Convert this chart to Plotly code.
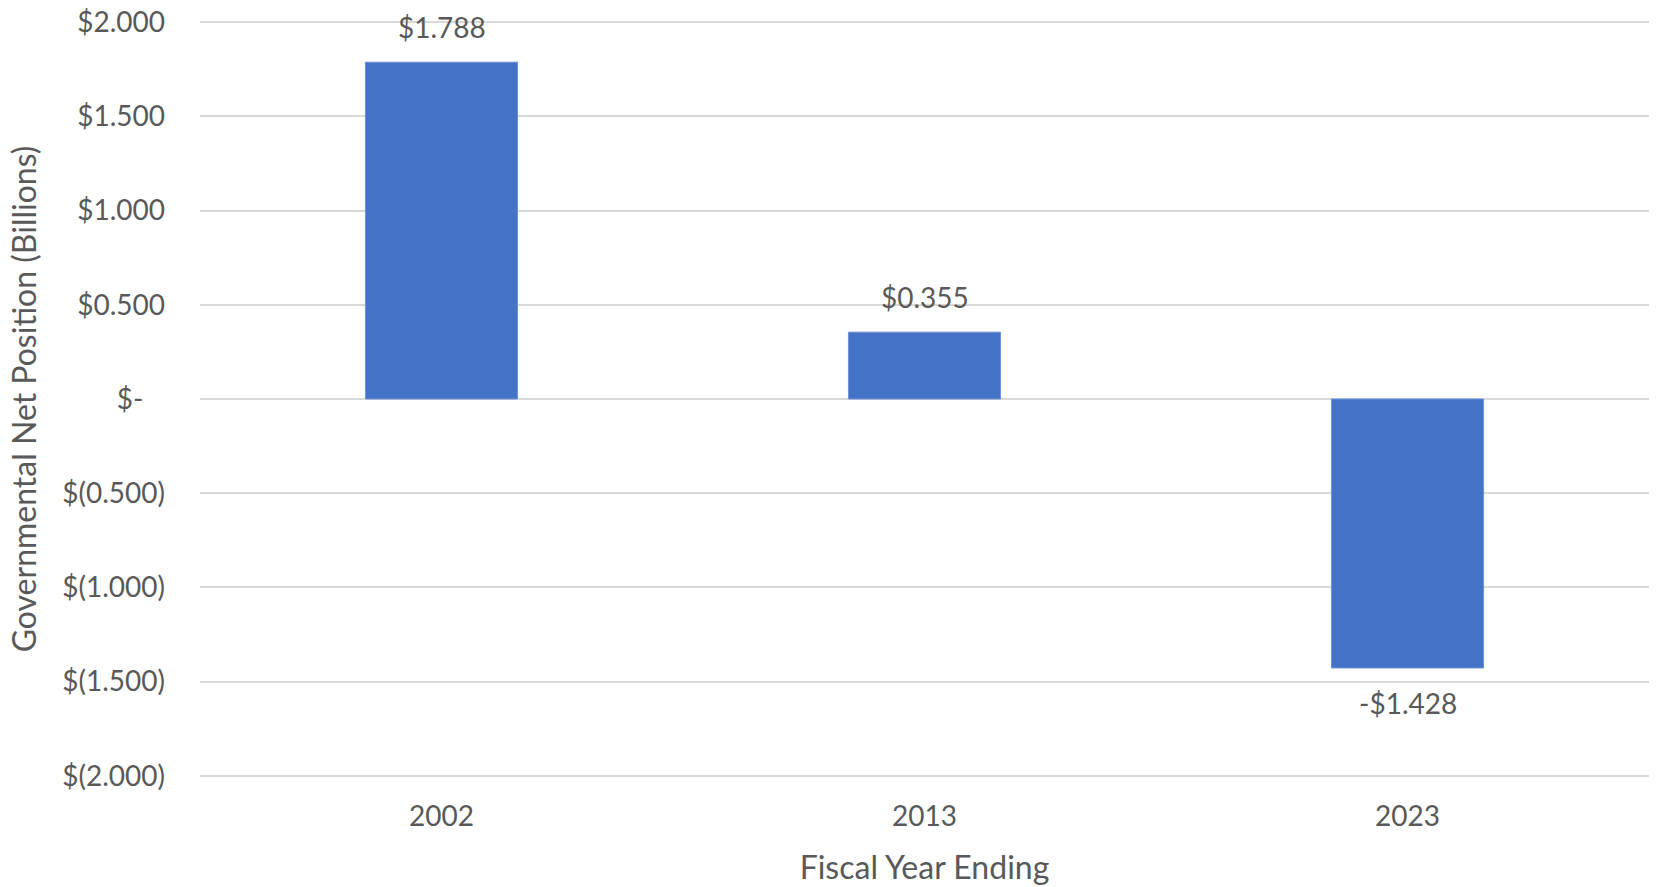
import plotly.graph_objects as go

years = ["2002", "2013", "2023"]
values = [1.788, 0.355, -1.428]
labels = ["$1.788", "$0.355", "-$1.428"]
tick_vals = [2.0, 1.5, 1.0, 0.5, 0.0, -0.5, -1.0, -1.5, -2.0]
tick_text = ["$2.000", "$1.500", "$1.000", "$0.500", "$-\u00a0\u00a0\u00a0",
             "$(0.500)", "$(1.000)", "$(1.500)", "$(2.000)"]

FONT = "Lato"
GREY = "#595959"
TICK_SIZE = 28
TITLE_SIZE = 32

fig = go.Figure()
fig.add_trace(go.Bar(
    x=years, y=values,
    marker=dict(color="#4472C4", line=dict(color="#6f93d6", width=1)),
    width=0.315,
    hoverinfo="skip",
))

# annotations positioned by category index on the category axis
for i, (v, t) in enumerate(zip(values, labels)):
    fig.add_annotation(
        x=i, y=v, text=t, showarrow=False,
        yshift=35 if v >= 0 else -35,
        font=dict(family=FONT, size=TICK_SIZE, color=GREY),
    )

fig.update_layout(
    width=1659, height=887,
    margin=dict(l=200, r=10, t=20, b=109),
    paper_bgcolor="white", plot_bgcolor="white",
    showlegend=False,
    font=dict(family=FONT, size=TICK_SIZE, color=GREY),
)
fig.update_xaxes(
    type="category",
    categoryorder="array", categoryarray=years,
    range=[-0.5, 2.5],
    automargin=False,
    showgrid=False, showline=False, zeroline=False,
    ticks="", ticklabelstandoff=19,
    tickfont=dict(family=FONT, size=TICK_SIZE, color=GREY),
    title=dict(text="Fiscal Year Ending", standoff=25,
               font=dict(family=FONT, size=TITLE_SIZE, color=GREY)),
)
fig.update_yaxes(
    range=[-2.012, 2.012],
    automargin=False,
    tickvals=tick_vals, ticktext=tick_text,
    showgrid=True, gridcolor="#d9d9d9", gridwidth=2,
    zeroline=True, zerolinecolor="#d9d9d9", zerolinewidth=2,
    showline=False, ticks="", ticklabelstandoff=34,
    tickfont=dict(family=FONT, size=TICK_SIZE, color=GREY),
    title=dict(text="Governmental Net Position (Billions)", standoff=16,
               font=dict(family=FONT, size=TITLE_SIZE, color=GREY)),
)

fig.write_html("out.html")
